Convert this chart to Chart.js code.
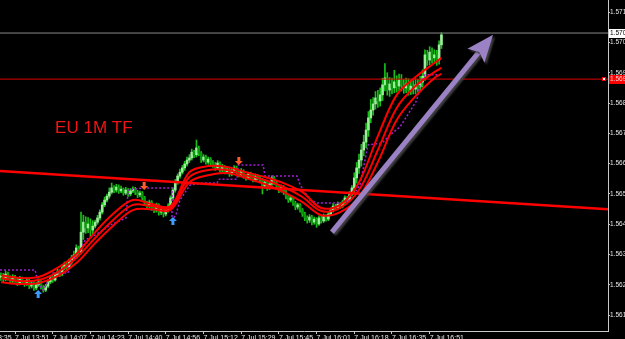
<!DOCTYPE html>
<html>
<head>
<meta charset="utf-8">
<script src="https://cdn.jsdelivr.net/npm/chart.js@4.4.1/dist/chart.umd.min.js"></script>
<style>
  html, body { margin: 0; padding: 0; background: #000; overflow: hidden; }
</style>
</head>
<body>
<canvas id="myChart" width="625" height="339"></canvas>
<script>
// EURUSD M1, one bar per minute, bar 0 = 7 Jul 13:35
const firstBar = 10;
const firstOpen = 1.56225;
const closes = [
  1.56230,1.56220,1.56236,1.56223,1.56213,1.56226,1.56216,1.56206,1.56220,1.56210,
  1.56203,1.56216,1.56196,1.56206,1.56190,1.56200,1.56210,1.56193,1.56183,1.56196,
  1.56210,1.56223,1.56216,1.56233,1.56242,1.56236,1.56256,1.56266,1.56259,1.56275,
  1.56289,1.56299,1.56322,1.56308,1.56374,1.56407,1.56388,1.56401,1.56381,1.56394,
  1.56407,1.56421,1.56440,1.56464,1.56480,1.56493,1.56506,1.56520,1.56513,1.56523,
  1.56510,1.56516,1.56503,1.56513,1.56500,1.56510,1.56516,1.56506,1.56497,1.56503,
  1.56487,1.56470,1.56460,1.56473,1.56454,1.56447,1.56464,1.56440,1.56450,1.56434,
  1.56447,1.56460,1.56487,1.56513,1.56539,1.56559,1.56572,1.56586,1.56599,1.56612,
  1.56619,1.56638,1.56629,1.56652,1.56635,1.56612,1.56622,1.56605,1.56615,1.56602,
  1.56596,1.56586,1.56602,1.56579,1.56589,1.56572,1.56582,1.56566,1.56576,1.56586,
  1.56572,1.56563,1.56576,1.56559,1.56553,1.56566,1.56556,1.56546,1.56559,1.56553,
  1.56546,1.56526,1.56539,1.56520,1.56533,1.56553,1.56536,1.56526,1.56513,1.56523,
  1.56506,1.56493,1.56480,1.56487,1.56470,1.56457,1.56464,1.56447,1.56434,1.56421,
  1.56414,1.56424,1.56407,1.56417,1.56401,1.56421,1.56411,1.56427,1.56417,1.56434,
  1.56447,1.56460,1.56454,1.56467,1.56460,1.56473,1.56487,1.56480,1.56500,1.56520,
  1.56553,1.56586,1.56612,1.56645,1.56671,1.56711,1.56751,1.56777,1.56797,1.56817,
  1.56807,1.56827,1.56860,1.56883,1.56843,1.56863,1.56850,1.56870,1.56856,1.56876,
  1.56860,1.56850,1.56863,1.56843,1.56856,1.56846,1.56860,1.56853,1.56869,1.56889,
  1.56959,1.56942,1.56968,1.56949,1.56959,1.56942,1.56992,1.57025
];
const highs = [
  1.56240,1.56238,1.56246,1.56242,1.56230,1.56234,1.56232,1.56224,1.56228,1.56226,
  1.56215,1.56224,1.56220,1.56214,1.56210,1.56208,1.56220,1.56214,1.56198,1.56202,
  1.56218,1.56230,1.56228,1.56240,1.56252,1.56250,1.56264,1.56276,1.56272,1.56286,
  1.56298,1.56312,1.56332,1.56328,1.56440,1.56430,1.56425,1.56422,1.56418,1.56412,
  1.56414,1.56430,1.56448,1.56472,1.56490,1.56500,1.56520,1.56536,1.56528,1.56532,
  1.56530,1.56526,1.56520,1.56522,1.56518,1.56518,1.56524,1.56522,1.56512,1.56510,
  1.56508,1.56492,1.56476,1.56480,1.56478,1.56460,1.56470,1.56468,1.56456,1.56454,
  1.56454,1.56468,1.56494,1.56520,1.56548,1.56566,1.56582,1.56594,1.56608,1.56622,
  1.56630,1.56648,1.56644,1.56678,1.56658,1.56640,1.56630,1.56628,1.56622,1.56620,
  1.56610,1.56604,1.56610,1.56606,1.56598,1.56594,1.56590,1.56588,1.56584,1.56594,
  1.56592,1.56578,1.56584,1.56580,1.56566,1.56572,1.56572,1.56562,1.56566,1.56564,
  1.56560,1.56552,1.56546,1.56544,1.56540,1.56560,1.56558,1.56542,1.56532,1.56530,
  1.56528,1.56512,1.56498,1.56494,1.56492,1.56476,1.56470,1.56468,1.56452,1.56440,
  1.56428,1.56432,1.56430,1.56424,1.56422,1.56428,1.56426,1.56434,1.56432,1.56440,
  1.56454,1.56468,1.56466,1.56474,1.56472,1.56480,1.56494,1.56492,1.56508,1.56528,
  1.56570,1.56604,1.56632,1.56664,1.56694,1.56734,1.56772,1.56812,1.56818,1.56838,
  1.56842,1.56850,1.56882,1.56930,1.56900,1.56884,1.56882,1.56908,1.56890,1.56896,
  1.56894,1.56878,1.56882,1.56880,1.56876,1.56874,1.56880,1.56878,1.56888,1.56910,
  1.56976,1.56974,1.56986,1.56982,1.56976,1.56974,1.57005,1.57032
];
const lows = [
  1.56215,1.56210,1.56214,1.56216,1.56204,1.56206,1.56208,1.56198,1.56200,1.56203,
  1.56195,1.56198,1.56188,1.56190,1.56182,1.56184,1.56195,1.56186,1.56176,1.56178,
  1.56190,1.56204,1.56208,1.56212,1.56228,1.56228,1.56230,1.56250,1.56250,1.56254,
  1.56268,1.56282,1.56292,1.56300,1.56302,1.56350,1.56370,1.56372,1.56360,1.56366,
  1.56388,1.56400,1.56414,1.56434,1.56458,1.56474,1.56486,1.56500,1.56504,1.56506,
  1.56502,1.56504,1.56496,1.56498,1.56492,1.56494,1.56504,1.56498,1.56488,1.56490,
  1.56480,1.56462,1.56452,1.56454,1.56446,1.56438,1.56440,1.56430,1.56432,1.56424,
  1.56428,1.56440,1.56454,1.56480,1.56506,1.56532,1.56552,1.56566,1.56578,1.56592,
  1.56604,1.56612,1.56620,1.56622,1.56626,1.56604,1.56606,1.56598,1.56598,1.56594,
  1.56588,1.56578,1.56580,1.56572,1.56572,1.56566,1.56566,1.56558,1.56560,1.56570,
  1.56566,1.56556,1.56558,1.56552,1.56546,1.56548,1.56550,1.56540,1.56540,1.56546,
  1.56538,1.56500,1.56520,1.56512,1.56514,1.56528,1.56530,1.56518,1.56504,1.56506,
  1.56498,1.56484,1.56472,1.56474,1.56462,1.56448,1.56450,1.56440,1.56426,1.56412,
  1.56404,1.56406,1.56398,1.56400,1.56390,1.56396,1.56404,1.56406,1.56410,1.56412,
  1.56428,1.56440,1.56446,1.56448,1.56452,1.56454,1.56466,1.56474,1.56476,1.56494,
  1.56504,1.56536,1.56568,1.56592,1.56626,1.56652,1.56690,1.56735,1.56760,1.56780,
  1.56786,1.56790,1.56808,1.56840,1.56826,1.56822,1.56830,1.56834,1.56836,1.56838,
  1.56840,1.56832,1.56834,1.56826,1.56828,1.56830,1.56830,1.56836,1.56838,1.56852,
  1.56875,1.56924,1.56926,1.56932,1.56930,1.56924,1.56928,1.56980
];

// three moving averages, read every 8 bars
const maBars = [10,18,26,34,42,50,58,66,74,82,90,98,106,114,122,130,138,146,154,162,170,178,186,194,197];
const maFast = [1.56232,1.56223,1.56226,1.56256,1.56302,1.56374,1.56437,1.56480,1.56467,1.56460,1.56572,1.56592,1.56589,1.56572,1.56556,1.56536,1.56506,1.56454,1.56464,1.56539,1.56691,1.56827,1.56886,1.56932,1.56949];
const maMid  = [1.56223,1.56213,1.56216,1.56242,1.56289,1.56355,1.56417,1.56464,1.56460,1.56454,1.56556,1.56579,1.56579,1.56562,1.56546,1.56523,1.56490,1.56444,1.56454,1.56513,1.56645,1.56784,1.56856,1.56902,1.56916];
const maSlow = [1.56209,1.56203,1.56206,1.56229,1.56272,1.56338,1.56398,1.56447,1.56450,1.56447,1.56539,1.56562,1.56569,1.56553,1.56533,1.56506,1.56473,1.56430,1.56440,1.56490,1.56605,1.56744,1.56823,1.56883,1.56896];

// purple dotted channel line
const dotBars = [9.6,24.5,25.8,27.9,32.1,38.5,39.3,42.7,45.7,50,52.1,56.3,63.1,64,70.3,82.6,82.6,84.3,86,90.3,96.6,101.7,102.6,110.2,110.7,121.3,122.1,135.7,137,141.2,144.2,155.2,158.2,162.4,163.7,165.8,171.8,175.2,179.4,186.6,187.9,190,196.4];
const dotVals = [1.56249,1.56249,1.56206,1.56183,1.56239,1.56239,1.56275,1.56298,1.56348,1.56365,1.56374,1.56397,1.56421,1.56513,1.56520,1.56520,1.56414,1.56431,1.56480,1.56530,1.56536,1.56536,1.56549,1.56549,1.56596,1.56596,1.56559,1.56559,1.56530,1.56480,1.56470,1.56470,1.56480,1.56530,1.56579,1.56662,1.56668,1.56695,1.56721,1.56810,1.56860,1.56893,1.56893];

// signals
const upArrows = [[25.8, 1.56170], [83, 1.56411]];
const downArrows = [[70.8, 1.56526], [111, 1.56609]];

// objects drawn on the chart
const xMin = 9.6, xMax = 267.7;
const yMin = 1.56048, yMax = 1.57140;
const trendBars = [xMin, xMax];
const trendVals = [1.56576, 1.56450];
const grayLevel = 1.57031, grayLabel = '1.570';
const redLevel = 1.56879, redLabel = '1.569';
const bigArrow = [[150.5, 1.56374], [218.9, 1.57025]];
const noteText = 'EU 1M TF';
const notePos = [33, 1.56718];

// axes
const timeTickBars = [0,16,32,48,64,80,96,112,128,144,160,176,192];
const timeLabels = ['7 Jul 13:35','7 Jul 13:51','7 Jul 14:07','7 Jul 14:23','7 Jul 14:40','7 Jul 14:56','7 Jul 15:12','7 Jul 15:29','7 Jul 15:45','7 Jul 16:01','7 Jul 16:18','7 Jul 16:35','7 Jul 16:51'];
const priceTicks = [1.561,1.562,1.563,1.564,1.565,1.566,1.567,1.568,1.569,1.570,1.571];
const priceLabels = ['1.561','1.562','1.563','1.564','1.565','1.566','1.567','1.568','1.569','1.570','1.571'];

const wickData = [], bodyData = [];
closes.forEach((c, k) => {
  const open = k === 0 ? firstOpen : closes[k - 1];
  wickData.push({ x: firstBar + k, y: [lows[k], highs[k]] });
  bodyData.push({ x: firstBar + k, y: [open, c], up: c >= open });
});

const pts = (xs, ys) => xs.map((v, i) => ({ x: v, y: ys[i] }));

function drawSignal(ctx, cx, cy, d, color) {
  ctx.fillStyle = color;
  ctx.beginPath();
  ctx.moveTo(cx, cy - 4 * d);
  ctx.lineTo(cx + 4, cy);
  ctx.lineTo(cx + 1.5, cy);
  ctx.lineTo(cx + 1.5, cy + 4 * d);
  ctx.lineTo(cx - 1.5, cy + 4 * d);
  ctx.lineTo(cx - 1.5, cy);
  ctx.lineTo(cx - 4, cy);
  ctx.closePath();
  ctx.fill();
}

const extras = {
  id: 'extras',
  afterDatasetsDraw(chart) {
    const { ctx, scales } = chart;
    const x = scales.x, y = scales.y;
    ctx.save();
    ctx.fillStyle = '#f01414';
    ctx.font = '17px "Liberation Sans", Arial, sans-serif';
    ctx.textBaseline = 'middle';
    ctx.fillText(noteText, x.getPixelForValue(notePos[0]), y.getPixelForValue(notePos[1]));

    upArrows.forEach(a => drawSignal(ctx, x.getPixelForValue(a[0]), y.getPixelForValue(a[1]), 1, '#3a9cff'));
    downArrows.forEach(a => drawSignal(ctx, x.getPixelForValue(a[0]), y.getPixelForValue(a[1]), -1, '#ff5a28'));

    // big purple arrow
    const x0 = x.getPixelForValue(bigArrow[0][0]), y0 = y.getPixelForValue(bigArrow[0][1]);
    const x1 = x.getPixelForValue(bigArrow[1][0]), y1 = y.getPixelForValue(bigArrow[1][1]);
    const len = Math.hypot(x1 - x0, y1 - y0);
    const ux = (x1 - x0) / len, uy = (y1 - y0) / len;
    const headLen = 27, headW = 11;
    const bx = x1 - ux * headLen, by = y1 - uy * headLen;
    ctx.shadowColor = 'rgba(70,70,70,0.9)';
    ctx.shadowOffsetX = 2; ctx.shadowOffsetY = 2; ctx.shadowBlur = 2;
    ctx.strokeStyle = '#9a82c4';
    ctx.lineWidth = 5;
    ctx.beginPath();
    ctx.moveTo(x0, y0);
    ctx.lineTo(bx + ux * 4, by + uy * 4);
    ctx.stroke();
    ctx.fillStyle = '#9a82c4';
    ctx.beginPath();
    ctx.moveTo(x1, y1);
    ctx.lineTo(bx - uy * headW, by + ux * headW);
    ctx.lineTo(bx + ux * 5, by + uy * 5);
    ctx.lineTo(bx + uy * headW, by - ux * headW);
    ctx.closePath();
    ctx.fill();
    ctx.restore();
  },
  afterDraw(chart) {
    const { ctx, scales, chartArea } = chart;
    const y = scales.y;
    ctx.save();
    ctx.font = '6.5px "Liberation Sans", Arial, sans-serif';
    ctx.textBaseline = 'middle';
    const gy = Math.round(y.getPixelForValue(grayLevel));
    ctx.fillStyle = '#ffffff';
    ctx.fillRect(chartArea.right + 1, gy - 4, 20, 9);
    ctx.fillStyle = '#000';
    ctx.fillText(grayLabel, chartArea.right + 2, gy + 0.5);
    const ry = Math.round(y.getPixelForValue(redLevel));
    ctx.fillStyle = '#ff0000';
    ctx.fillRect(chartArea.right + 1, ry - 4, 20, 9);
    ctx.fillStyle = '#ffd0d0';
    ctx.fillText(redLabel, chartArea.right + 2, ry + 0.5);
    ctx.strokeStyle = '#ff0000';
    ctx.lineWidth = 1;
    ctx.fillStyle = '#fff';
    ctx.fillRect(chartArea.right - 5.5, ry - 1.5, 3, 3);
    ctx.strokeRect(chartArea.right - 5.5, ry - 1.5, 3, 3);
    ctx.restore();
  }
};

const ctx = document.getElementById('myChart').getContext('2d');
const chart = new Chart(ctx, {
  type: 'bar',
  data: {
    datasets: [
      { type: 'line', order: 1, data: pts(maBars, maFast), borderColor: '#ff0000', borderWidth: 2, pointRadius: 0, tension: 0.35 },
      { type: 'line', order: 1, data: pts(maBars, maMid), borderColor: '#ff0000', borderWidth: 2, pointRadius: 0, tension: 0.35 },
      { type: 'line', order: 1, data: pts(maBars, maSlow), borderColor: '#ff0000', borderWidth: 2, pointRadius: 0, tension: 0.35 },
      { type: 'line', order: 2, data: pts(trendBars, trendVals), borderColor: '#ff0000', borderWidth: 2.5, pointRadius: 0 },
      { type: 'line', order: 3, data: pts(dotBars, dotVals), borderColor: '#a21fd6', borderWidth: 1.5, borderDash: [2, 2], pointRadius: 0 },
      { type: 'line', order: 4, data: pts([xMin, xMax], [grayLevel, grayLevel]), borderColor: '#8a8a8a', borderWidth: 1, pointRadius: 0 },
      { type: 'line', order: 4, data: pts([xMin, xMax], [redLevel, redLevel]), borderColor: '#e00000', borderWidth: 1, pointRadius: 0 },
      { order: 5, data: bodyData, grouped: false, barThickness: 2, minBarLength: 1,
        backgroundColor: c => (c.raw && c.raw.up) ? '#9aee9a' : '#0c960c' },
      { order: 6, data: wickData, grouped: false, barThickness: 1, backgroundColor: '#18c018' }
    ]
  },
  options: {
    responsive: false,
    animation: false,
    layout: { padding: 0 },
    plugins: { legend: { display: false }, tooltip: { enabled: false } },
    scales: {
      x: {
        type: 'linear', min: xMin, max: xMax, offset: false,
        grid: { offset: false, drawOnChartArea: false, drawTicks: true, tickLength: 3, color: '#c8c8c8' },
        border: { color: '#c8c8c8' },
        ticks: {
          autoSkip: false, maxRotation: 0, align: 'start', padding: 0,
          color: '#e8e8e8', font: { family: 'Liberation Sans', size: 7 },
          callback: v => timeLabels[timeTickBars.indexOf(v)]
        },
        afterBuildTicks: s => { s.ticks = timeTickBars.map(v => ({ value: v })); },
        afterFit: s => { s.height = 8; s.paddingLeft = 0; s.paddingRight = 0; }
      },
      y: {
        position: 'right', min: yMin, max: yMax,
        grid: { drawOnChartArea: false, drawTicks: true, tickLength: 2, color: '#c8c8c8' },
        border: { color: '#c8c8c8' },
        ticks: {
          padding: 0, crossAlign: 'near', color: '#e8e8e8',
          font: { family: 'Liberation Sans', size: 6.5 },
          callback: (v, i) => priceLabels[i]
        },
        afterBuildTicks: s => { s.ticks = priceTicks.map(v => ({ value: v })); },
        afterFit: s => { s.width = 17; s.paddingTop = 0; s.paddingBottom = 0; }
      }
    }
  },
  plugins: [extras]
});
</script>
</body>
</html>
